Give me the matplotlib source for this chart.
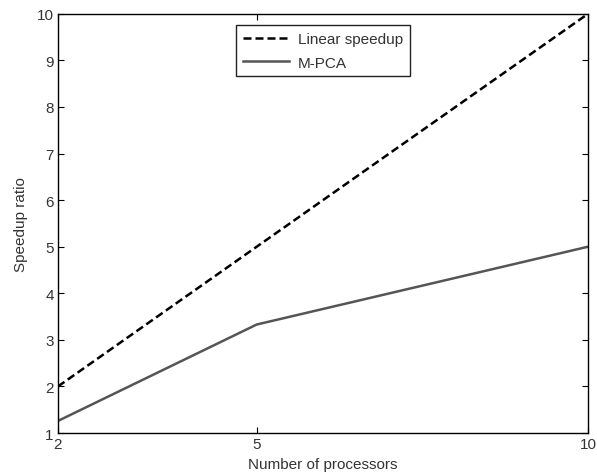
import matplotlib
matplotlib.use('Agg')
import matplotlib.pyplot as plt

# Daten
processors = [2, 5, 10]
linear_speedup = [2, 5, 10]
mpca_speedup = [1.26, 3.33, 5.0]

plt.rcParams['font.family'] = ['Liberation Sans', 'DejaVu Sans']
plt.rcParams['font.size'] = 11

fig = plt.figure(figsize=(5.97, 4.77), dpi=100)
ax = fig.add_axes([0.097, 0.090, 0.888, 0.879])

ax.plot(processors, linear_speedup, color='black', linestyle=(0, (3.2, 1.6)), linewidth=1.8, label='Linear speedup')
ax.plot(processors, mpca_speedup, color='#555555', linewidth=1.8, label='M-PCA')

ax.set_xlim(2, 10)
ax.set_ylim(1, 10)
ax.set_xticks(processors)
ax.set_yticks(range(1, 11))
ax.tick_params(direction='in', top=True, right=True, length=4, pad=3, colors='black', labelcolor='#333333')
for s in ax.spines.values():
    s.set_linewidth(1.0)

ax.set_xlabel('Number of processors', color='#333333', labelpad=4)
ax.set_ylabel('Speedup ratio', color='#333333', labelpad=6)

leg = ax.legend(loc='upper center', bbox_to_anchor=(0.5, 0.983), fancybox=False, edgecolor='#222222',
                framealpha=1, handlelength=3.0, handletextpad=0.6, borderpad=0.45, labelspacing=0.6,
                borderaxespad=0.3)
leg.get_frame().set_linewidth(1.0)
for t in leg.get_texts():
    t.set_color('#333333')

fig.savefig('out.png', dpi=100)
